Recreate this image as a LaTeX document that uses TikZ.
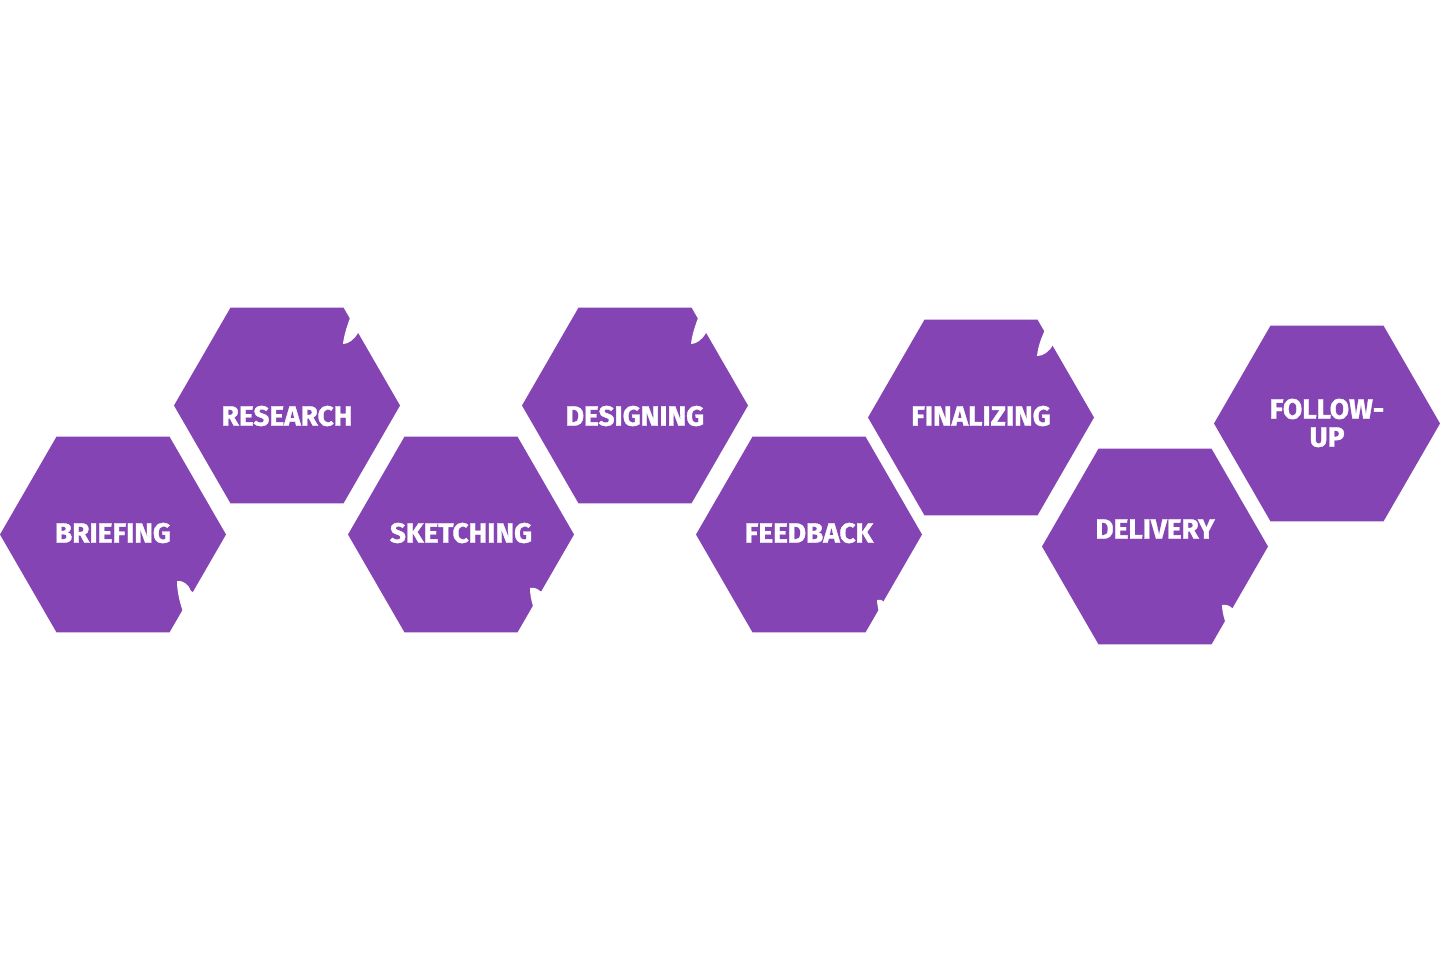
\documentclass[tikz,border=0pt]{standalone}
\usepackage{fontspec}
\setmainfont{Fira Sans}[BoldFeatures={FakeBold=1.2}]
\usetikzlibrary{shapes.geometric}
\definecolor{hexpurple}{HTML}{8444B3}
\begin{document}
\begin{tikzpicture}[x=0.5pt,y=-0.5pt,
  hexagon/.style={regular polygon, regular polygon sides=6, minimum size=113pt,
    inner sep=0pt, outer sep=0pt, fill=hexpurple, draw=none},
  steptext/.style={text=white, font=\bfseries\fontsize{14}{14}\selectfont,
    align=center, inner sep=0pt},
  notch/.style={fill=white, draw=none}]
\useasboundingbox[fill=white] (0,0) rectangle (1440,959);
% hexagons
\node[hexagon] (h1) at (113,534.5) {};
\node[hexagon] (h2) at (287,405.5) {};
\node[hexagon] (h3) at (461,534.5) {};
\node[hexagon] (h4) at (635,405.5) {};
\node[hexagon] (h5) at (809,534.5) {};
\node[hexagon] (h6) at (981,417.5) {};
\node[hexagon] (h7) at (1155,546.5) {};
\node[hexagon] (h8) at (1327,423.5) {};
% labels
\node[steptext] (t1) at (113,533) {BRIEFING};
\node[steptext] (t2) at (287,416) {RESEARCH};
\node[steptext] (t3) at (461,533) {SKETCHING};
\node[steptext] (t4) at (635,416) {DESIGNING};
\node[steptext] (t5) at (809,533) {FEEDBACK};
\node[steptext] (t6) at (981,416) {FINALIZING};
\node[steptext] (t7) at (1155,529) {DELIVERY};
\node[steptext] (t8) at (1327,423) {FOLLOW-\\UP};
% white notches at the corners
\fill[notch] (177,581) .. controls (183,580) and (189,585) .. (191,591) -- (205,600) -- (183,612) .. controls (179,600) and (177,590) .. (177,581) -- cycle;
\fill[notch] (343,344) .. controls (344,335) and (347,326) .. (350,318) -- (370,320) -- (358,333) .. controls (354,340) and (348,344) .. (343,344) -- cycle;
\fill[notch] (691,344) .. controls (692,335) and (695,326) .. (698,318) -- (718,320) -- (706,333) .. controls (702,340) and (696,344) .. (691,344) -- cycle;
\fill[notch] (1037,356) .. controls (1038,347) and (1041,338) .. (1045,330) -- (1065,332) -- (1053,345) .. controls (1049,352) and (1043,356) .. (1037,356) -- cycle;
\fill[notch] (530,588) .. controls (534,587) and (538,589) .. (540,591) -- (550,595) -- (533,606) .. controls (531,600) and (530,593) .. (530,588) -- cycle;
\fill[notch] (877,600) .. controls (880,599) and (883,600) .. (884,602) -- (892,605) -- (879,613) .. controls (878,608) and (877,603) .. (877,600) -- cycle;
\fill[notch] (1222,605) .. controls (1226,604) and (1230,606) .. (1232,608) -- (1242,612) -- (1225,621) .. controls (1223,615) and (1222,609) .. (1222,605) -- cycle;
\end{tikzpicture}
\end{document}
